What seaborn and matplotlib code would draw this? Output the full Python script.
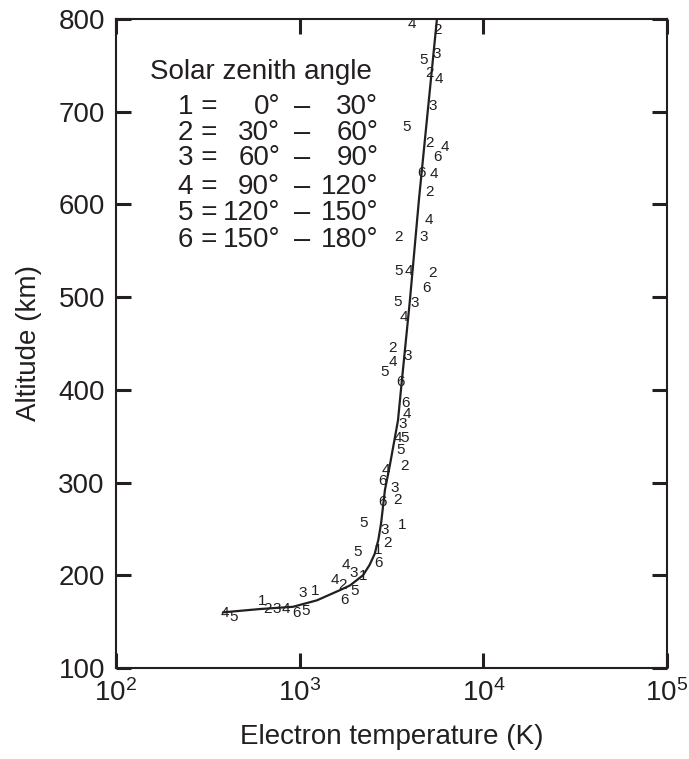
import numpy as np
import pandas as pd
import matplotlib
matplotlib.use("Agg")
import matplotlib.pyplot as plt
import seaborn as sns
from matplotlib.ticker import FixedLocator, NullLocator, LogFormatterSciNotation

# ---- data ----
sza_class = [4, 2, 5, 3, 2, 4, 3, 5, 2, 4, 6, 6, 4, 2, 4, 2, 3, 5, 4, 2, 6, 5, 3, 4,
             2, 3, 4, 5, 6, 6, 4, 3, 4, 5, 5, 2, 4, 6, 3, 6, 2, 5, 1, 3, 2, 5, 1, 6,
             4, 3, 1, 4, 2, 5, 6, 3, 1, 1, 2, 3, 4, 6, 5, 4, 5]
temp_K = [4087, 5662, 4750, 5590, 5120, 5730, 5320, 3840, 5120, 6180, 5662, 4630, 5380,
          5120, 5060, 3470, 4750, 3470, 3940, 5320, 4930, 3430, 4240, 3700, 3220, 3890,
          3220, 2910, 3520, 3790, 3840, 3650, 3430, 3740, 3560, 3740, 2950, 2840, 3300,
          2840, 3390, 2240, 3600, 2910, 2990, 2080, 2670, 2670, 1790, 1980, 2210, 1560,
          1720, 1980, 1760, 1042, 1210, 624, 672, 752, 842, 967, 1082, 392, 439]
alt_km = [795, 788, 756, 762, 742, 735, 706, 684, 666, 662, 651, 634, 633, 613, 583, 565,
          565, 528, 528, 526, 510, 495, 494, 479, 445, 437, 430, 419, 408, 386, 374, 363,
          348, 348, 335, 318, 314, 302, 294, 279, 281, 256, 254, 249, 235, 225, 227, 213,
          211, 202, 199, 195, 189, 183, 173, 181, 183, 172, 164, 164, 164, 159, 161, 159, 155]

profile_T = [382, 608, 919, 1242, 1657, 1878, 2212, 2400, 2560, 2680, 2775, 2912, 3100,
             3430, 3560, 3985, 4460, 4990, 5590]
profile_alt = [160, 163.6, 166, 173, 184, 189, 200, 211, 223, 238, 256, 292, 319,
               367, 400, 497, 605, 702, 800]

legend_title = "Solar zenith angle"
legend_lo = ["0°", "30°", "60°", "90°", "120°", "150°"]
legend_hi = ["30°", "60°", "90°", "120°", "150°", "180°"]

x_ticks = [1e2, 1e3, 1e4, 1e5]
y_ticks = [100, 200, 300, 400, 500, 600, 700, 800]

# ---- style ----
sns.set_theme(style="ticks")
plt.rcParams["font.family"] = ["Liberation Sans", "DejaVu Sans"]
ink = "#231f20"
plt.rcParams.update({
    "text.color": ink, "axes.labelcolor": ink,
    "xtick.color": ink, "ytick.color": ink, "axes.edgecolor": ink,
})
FS = 20

fig = plt.figure(figsize=(6.89, 7.59), dpi=100)
ax = fig.add_axes([116 / 689, 1 - 668 / 759, 551 / 689, 649 / 759])

profile = pd.DataFrame({"T": profile_T, "alt": profile_alt})
sns.lineplot(data=profile, x="T", y="alt", sort=False, estimator=None,
             color=ink, lw=1.6, ax=ax)

ax.set_xscale("log")
ax.set_xlim(1e2, 1e5)
ax.set_ylim(100, 800)

for c, t, a in zip(sza_class, temp_K, alt_km):
    ax.text(t, a, str(c), ha="center", va="center", fontsize=11, color=ink)

ax.xaxis.set_major_locator(FixedLocator(x_ticks))
ax.xaxis.set_major_formatter(LogFormatterSciNotation())
ax.xaxis.set_minor_locator(NullLocator())
ax.yaxis.set_major_locator(FixedLocator(y_ticks))
ax.tick_params(axis="both", which="major", direction="in", length=11, width=2.2,
               top=True, right=True, labelsize=FS, pad=8)
for s in ax.spines.values():
    s.set_linewidth(1.5)

ax.set_xlabel("Electron temperature (K)", fontsize=FS, labelpad=12)
ax.set_ylabel("Altitude (km)", fontsize=FS, labelpad=12)

# legend block
ax.text(0.0617, 0.918, legend_title, transform=ax.transAxes, fontsize=FS,
        ha="left", va="center")
rows_y = [0.864, 0.824, 0.786, 0.741, 0.701, 0.659]
for i, (lo, hi, yy) in enumerate(zip(legend_lo, legend_hi, rows_y)):
    ax.text(0.1125, yy, f"{i + 1} =", transform=ax.transAxes, fontsize=FS,
            ha="left", va="center")
    ax.text(0.298, yy, lo, transform=ax.transAxes, fontsize=FS,
            ha="right", va="center")
    ax.text(0.337, yy, "\u2013", transform=ax.transAxes, fontsize=FS + 1,
            ha="center", va="center")
    ax.text(0.476, yy, hi, transform=ax.transAxes, fontsize=FS,
            ha="right", va="center")

fig.savefig("out.png", dpi=100)
